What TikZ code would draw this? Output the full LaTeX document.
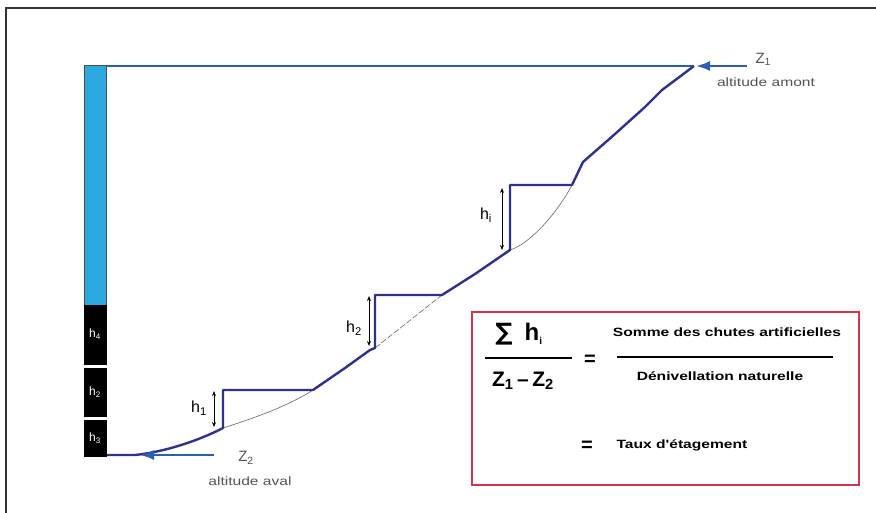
\documentclass[tikz,border=0pt]{standalone}
\usepackage{fontspec}
\setmainfont{Liberation Sans}
\newfontfamily\widefont[FakeStretch=1.3]{Liberation Sans}
\newfontfamily\dejavu{DejaVu Sans}
\usetikzlibrary{arrows.meta}
\definecolor{barblue}{HTML}{2AA8DF}
\definecolor{navy}{HTML}{2E3190}
\definecolor{lineblue}{HTML}{2D5DB5}
\definecolor{boxred}{HTML}{D8334A}
\definecolor{txtgray}{HTML}{555555}
\tikzset{
  profile/.style={draw=navy,line width=2.4pt,line join=round},
  natural/.style={draw=black!60,line width=0.6pt},
  harrow/.style={draw=black,line width=0.9pt,{Stealth[length=5pt,width=4pt]}-{Stealth[length=5pt,width=4pt]}},
  zarrow/.style={draw=lineblue,line width=2.2pt,-{Latex[length=14pt,width=10pt]}},
  blk/.style={fill=black,draw=black},
  blklabel/.style={text=white,font=\fontsize{12}{12}\selectfont},
  hlabel/.style={font=\fontsize{16}{16}\selectfont},
  zlabel/.style={text=txtgray,font=\fontsize{15}{15}\selectfont},
  alt/.style={text=txtgray,font=\widefont\fontsize{12}{12}\selectfont},
  boxtxt/.style={font=\widefont\bfseries\fontsize{12}{12}\selectfont},
}
\begin{document}
\begin{tikzpicture}[x=1pt,y=-1pt]
\useasboundingbox (0,0) rectangle (876,513);
\fill[white] (0,0) rectangle (876,513);
% frame
\draw[black!80,line width=1.5pt] (6,513) -- (6,8) -- (876,8);
% bar
\fill[barblue,draw=black!70,line width=0.6pt] (84,65) rectangle (106,305);
\node[blk,minimum width=22pt,minimum height=59pt,inner sep=0pt] (b4) at (95,334.5) {};
\node[blk,minimum width=22pt,minimum height=48pt,inner sep=0pt] (b2) at (95,392) {};
\node[blk,minimum width=22pt,minimum height=36pt,inner sep=0pt] (b3) at (95,438) {};
\node[blklabel] at (b4) {h\textsubscript{4}};
\node[blklabel] at (b2) {h\textsubscript{2}};
\node[blklabel] at (b3) {h\textsubscript{3}};
% coordinates
\coordinate (top) at (106,66);
\coordinate (z1p) at (694,66);
\coordinate (z1s) at (747,66);
\coordinate (z2s) at (214,455);
\coordinate (z2p) at (140,455);
\coordinate (s1b) at (223,428);
\coordinate (s1t) at (223,390);
\coordinate (s1e) at (313,390);
\coordinate (s2b) at (375,348);
\coordinate (s2t) at (375,295);
\coordinate (s2e) at (442,295);
\coordinate (s3b) at (510,250);
\coordinate (s3t) at (510,185);
\coordinate (s3e) at (572,185);
% top reference line
\draw[lineblue,line width=1.2pt] (top) -- (z1p);
% natural profile
\draw[natural] (s1b) .. controls (255,418) and (290,405) .. (s1e);
\draw[natural,dash pattern=on 6pt off 2pt] (s2b) -- (s2e);
\draw[natural] (s3b) .. controls (530,244) and (558,212) .. (s3e);
% stepped profile
\draw[profile] (107,455) -- (135,455) .. controls (165,452) and (200,440) .. (s1b)
  -- (s1t) -- (s1e) -- (345,368) -- (370,350) -- (s2b) -- (s2t) -- (s2e)
  -- (475,274) -- (s3b) -- (s3t) -- (s3e) -- (583,162) -- (615,134) -- (645,107)
  -- (662,90) -- (z1p);
% Z arrows
\draw[zarrow] (z1s) -- (696,66);
\draw[zarrow] (z2s) -- (z2p);
\node[zlabel,anchor=west] (z1) at (752,59) {Z\textsubscript{1}};
\node[alt] (am) at (766,82) {altitude amont};
\node[zlabel] (z2) at (246,458) {Z\textsubscript{2}};
\node[alt] (av) at (250,481) {altitude aval};
% step arrows and labels
\coordinate (a1t) at (214,391); \coordinate (a1b) at (214,427);
\draw[harrow] (a1t) -- (a1b);
\node[hlabel] (h1) at (199,408) {h\textsubscript{1}};
\coordinate (a2t) at (369,296); \coordinate (a2b) at (369,346);
\draw[harrow] (a2t) -- (a2b);
\node[hlabel] (h2) at (354,328) {h\textsubscript{2}};
\coordinate (a3t) at (502,188); \coordinate (a3b) at (502,250);
\draw[harrow] (a3t) -- (a3b);
\node[hlabel] (hi) at (486,215) {h\textsubscript{i}};
% formula box
\draw[boxred,line width=1.3pt] (472,312) rectangle (859,485);
\node[font=\bfseries\fontsize{24}{24}\selectfont] (num) at (519,334) {{\dejavu\bfseries ∑}\hspace{12pt}h\textsubscript{\fontsize{10}{10}\selectfont i}};
\draw[black,line width=1.8pt] (485,358) -- (572,358);
\node[font=\bfseries\fontsize{21}{21}\selectfont] (den) at (523,381) {Z\textsubscript{1}\,–\,Z\textsubscript{2}};
\node[font=\bfseries\fontsize{20}{20}\selectfont] (eq1) at (590,360) {=};
\node[boxtxt] (somme) at (727,332) {Somme des chutes artificielles};
\draw[black,line width=1.8pt] (617,357) -- (833,357);
\node[boxtxt] (deniv) at (720,376) {Dénivellation naturelle};
\node[font=\bfseries\fontsize{20}{20}\selectfont] (eq2) at (587,446) {=};
\node[boxtxt,anchor=west] (taux) at (613,445) {Taux d'étagement};
\end{tikzpicture}
\end{document}
